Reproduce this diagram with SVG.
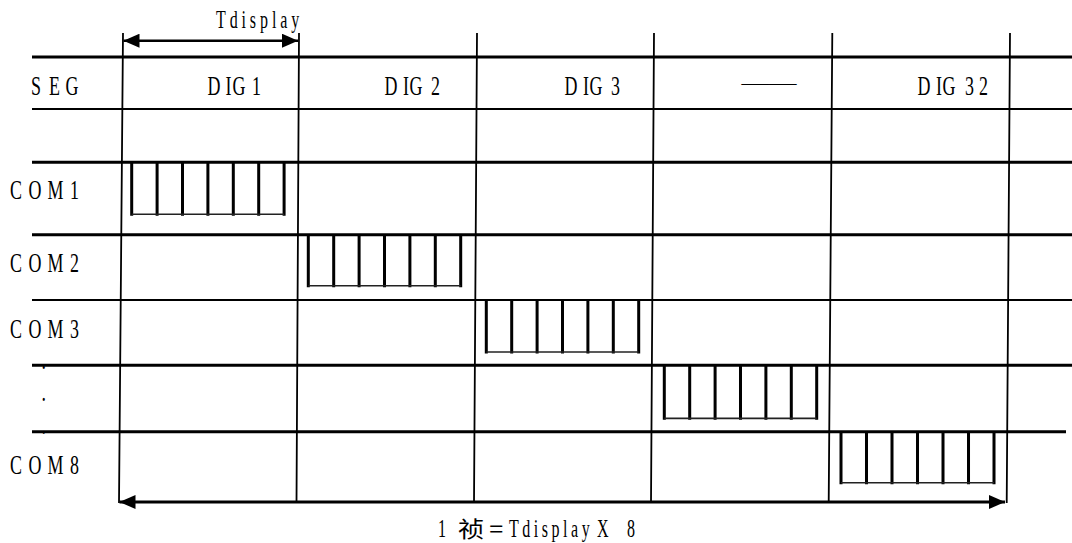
<svg xmlns="http://www.w3.org/2000/svg" xmlns:xlink="http://www.w3.org/1999/xlink" width="1072" height="543" viewBox="0 0 1072 543">
<style>
.bg{fill:#ffffff}
.h{stroke:#000;stroke-width:3;fill:none}
.h2{stroke:#000;stroke-width:2;fill:none}
.v{stroke:#000;stroke-width:1.8;fill:none}
.lbl{font-family:"Liberation Serif","Noto Sans CJK SC",serif;font-size:28px;fill:#000}
.sm{font-family:"Liberation Serif","Noto Sans CJK SC",serif;font-size:25px;fill:#000}
.cjk{font-family:"Noto Sans CJK SC","Liberation Serif",sans-serif;font-size:22px;fill:#000}
.pv{stroke:#000;stroke-width:3;fill:none}
.pb{stroke:#222;stroke-width:1.6;fill:none}
.arr{stroke:#000;fill:none}
</style>
<defs>
<marker id="ah" markerUnits="userSpaceOnUse" viewBox="0 0 16 14" refX="16" refY="7" markerWidth="16" markerHeight="14" orient="auto-start-reverse">
<path d="M0,0 L16,7 L0,14 z" fill="#000"/>
</marker>
<g id="pulse">
<path class="pv" d="M0,0 V53.5 M25.4,0 V53.5 M50.8,0 V53.5 M76.2,0 V53.5 M101.6,0 V53.5 M127,0 V53.5 M152.4,0 V53.5"/>
<path class="pb" d="M0,52 H152.4"/>
</g>
</defs>
<rect class="bg" x="0" y="0" width="1072" height="543"/>

<g id="row-labels">
<text class="lbl" transform="scale(0.64 1)" x="48.4 76.6 102.3" y="95">SEG</text>
<text class="lbl" transform="scale(0.64 1)" x="15.6 44.5 74.2 109.4" y="199.3">COM1</text>
<text class="lbl" transform="scale(0.64 1)" x="15.6 44.5 74.2 109.4" y="271.7">COM2</text>
<text class="lbl" transform="scale(0.64 1)" x="15.6 44.5 74.2 109.4" y="337.7">COM3</text>
<text class="lbl" transform="scale(0.64 1)" x="64.8" y="369">.</text>
<text class="lbl" transform="scale(0.64 1)" x="64.8" y="401">.</text>
<text class="lbl" transform="scale(0.64 1)" x="64.8" y="434.5">.</text>
<text class="lbl" transform="scale(0.64 1)" x="15.6 44.5 74.2 109.4" y="474.3">COM8</text>
</g>

<g id="column-labels">
<text class="lbl" transform="scale(0.64 1)" x="324.2 352.3 363.3 393.8" y="95">DIG1</text>
<text class="lbl" transform="scale(0.64 1)" x="600.8 629.7 639.8 673.4" y="95">DIG2</text>
<text class="lbl" transform="scale(0.64 1)" x="882 910.9 921.1 954.7" y="95">DIG3</text>
<text class="lbl" style="font-size:18px" x="741.5" y="88.6" textLength="55" lengthAdjust="spacingAndGlyphs">——</text>
<text class="lbl" transform="scale(0.64 1)" x="1433.6 1462.5 1472.7 1507.8 1529.7" y="95">DIG32</text>
</g>

<g id="grid">
<path class="h" d="M32,57 H1072 M32,162.3 H1072 M32,234.7 H1072 M32,365.3 H1072 M32,431.7 H1066"/>
<path class="h2" d="M32,109 H1072 M32,300 H1072"/>
<path class="v" d="M123,33 L119,503 M299,33 L296.5,503 M477,33 L474,503 M654,33 L651,503 M832.3,33 L828.7,503 M1010,33 L1006.7,503"/>
</g>

<g id="pulses">
<use xlink:href="#pulse" href="#pulse" transform="translate(131.7,162.3)"/>
<use xlink:href="#pulse" href="#pulse" transform="translate(308.3,234.7) scale(1,0.98)"/>
<use xlink:href="#pulse" href="#pulse" transform="translate(486.3,300)"/>
<use xlink:href="#pulse" href="#pulse" transform="translate(664.3,365.3) scale(1,1.02)"/>
<use xlink:href="#pulse" href="#pulse" transform="translate(841,431.7) scale(1.004,0.98)"/>
</g>

<g id="connectors">
<line class="arr" style="stroke-width:2.5" x1="123.5" y1="40.7" x2="298" y2="40.7" marker-start="url(#ah)" marker-end="url(#ah)"/>
<line class="arr" style="stroke-width:3" x1="119.5" y1="502" x2="1005" y2="502" marker-start="url(#ah)" marker-end="url(#ah)"/>
</g>

<g id="dimension-labels">
<text class="sm" transform="scale(0.64 1)" x="337.5" y="28.3" textLength="130" lengthAdjust="spacing">Tdisplay</text>
<text class="sm" transform="scale(0.64 1)" x="684.4" y="537">1</text>
<text class="cjk" transform="scale(1.2 1)" x="381.7" y="537">祯</text>
<text class="cjk" transform="scale(0.75 1)" x="650.7" y="537">＝</text>
<text class="sm" transform="scale(0.64 1)" x="795.3" y="537" textLength="126" lengthAdjust="spacing">Tdisplay</text>
<text class="sm" transform="scale(0.64 1)" x="932.8 979.7" y="537">X8</text>
</g>
</svg>
